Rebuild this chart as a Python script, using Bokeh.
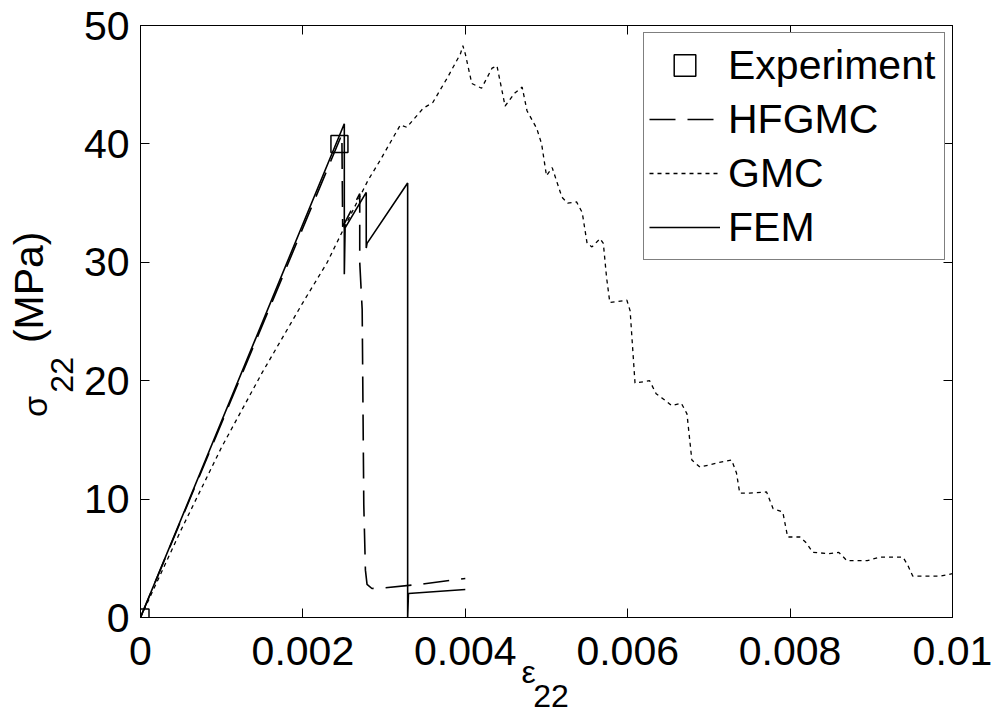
from bokeh.plotting import figure
from bokeh.models import (LinearAxis, FixedTicker, Legend, LegendItem, Range1d)
from bokeh.embed import file_html
from bokeh.resources import INLINE

# ---------------- data ----------------
exp_x = [0.0, 0.00245]
exp_y = [0.0, 40.0]

hfgmc_x = [0.0, 0.00248, 0.00249, 0.00270, 0.00270, 0.00273, 0.00275, 0.00277,
           0.00279, 0.00285, 0.0030, 0.0035, 0.0040]
hfgmc_y = [0.0, 40.8, 33.0, 35.8, 30.0, 26.0, 9.5, 4.0,
           2.8, 2.45, 2.5, 2.85, 3.3]

fem_x = [0.0, 0.00251, 0.00251, 0.00252, 0.00278, 0.00278, 0.00279, 0.00329,
         0.00329, 0.00330, 0.0040]
fem_y = [0.0, 41.7, 29.0, 32.9, 35.9, 31.2, 31.6, 36.7,
         0.0, 2.03, 2.36]

gmc_x = [0.0, 0.0005, 0.001, 0.0015, 0.002, 0.0023, 0.0025, 0.0028, 0.00295,
         0.0032, 0.00328, 0.00348, 0.0036, 0.00378, 0.00394, 0.00397, 0.0040,
         0.00408, 0.0042, 0.00433, 0.00439, 0.00449, 0.00461, 0.0047, 0.00476,
         0.00488, 0.00494, 0.0050, 0.00507, 0.00519, 0.00526, 0.00537, 0.00544,
         0.0055, 0.00556, 0.00566, 0.0057, 0.00574, 0.00578, 0.00599, 0.00603,
         0.00609, 0.00627, 0.00635, 0.00643, 0.00654, 0.00666, 0.00673, 0.00679,
         0.00689, 0.00713, 0.00728, 0.00734, 0.00738, 0.0075, 0.00771, 0.00779,
         0.00791, 0.00797, 0.00812, 0.0082, 0.00828, 0.00848, 0.0086, 0.0087,
         0.00895, 0.0091, 0.00939, 0.00945, 0.00951, 0.00985, 0.0100]
gmc_y = [0.0, 7.4, 14.4, 20.7, 26.6, 30.0, 32.8, 36.9, 38.6,
         41.6, 41.4, 43.0, 43.5, 45.6, 47.6, 48.3, 47.6,
         45.1, 44.7, 46.4, 46.6, 43.2, 44.3, 44.8, 42.8,
         41.3, 40.0, 37.3, 38.0, 35.5, 35.0, 35.1, 34.2,
         31.6, 31.3, 32.0, 31.6, 28.7, 26.6, 26.8, 25.9,
         19.8, 20.0, 18.9, 18.5, 17.9, 18.1, 17.2, 13.3,
         12.7, 13.1, 13.3, 12.2, 10.5, 10.5, 10.6, 9.2,
         8.9, 6.8, 6.8, 6.3, 5.5, 5.4, 5.5, 4.8,
         4.8, 5.1, 5.1, 4.4, 3.5, 3.5, 3.7]

x_ticks = [0.0, 0.002, 0.004, 0.006, 0.008, 0.01]
x_tick_labels = ["0", "0.002", "0.004", "0.006", "0.008", "0.01"]
y_ticks = [0, 10, 20, 30, 40, 50]
y_tick_labels = ["0", "10", "20", "30", "40", "50"]

series_names = ["Experiment", "HFGMC", "GMC", "FEM"]
x_title_main, x_title_sub = "ε", "22"
y_title_main, y_title_sub, y_title_unit = "σ", "22", "(MPa)"

# ---------------- figure ----------------
FONT = "Liberation Sans"
NB = "\u00a0"
p = figure(width=995, height=726, output_backend="svg", toolbar_location=None,
           x_range=Range1d(0, 0.01), y_range=Range1d(0, 50),
           min_border_left=140, min_border_right=43, min_border_top=25,
           min_border_bottom=109, x_axis_location=None, y_axis_location=None)
p.grid.visible = False
p.outline_line_color = "black"
p.outline_line_width = 1
p.background_fill_color = "white"
p.border_fill_color = "white"


def make_axis(kind, ticks, labels, show_labels):
    ax = LinearAxis(ticker=FixedTicker(ticks=ticks))
    ax.major_tick_in = 9
    ax.major_tick_out = 0
    ax.minor_tick_in = 0
    ax.minor_tick_out = 0
    ax.axis_line_color = "black"
    ax.major_tick_line_color = "black"
    ax.major_label_text_font = FONT
    ax.major_label_text_color = "black"
    ax.axis_label_text_font = FONT
    ax.axis_label_text_font_style = "normal"
    ax.axis_label_text_color = "black"
    if show_labels:
        ax.major_label_overrides = {t: l for t, l in zip(ticks, labels)}
        ax.major_label_text_font_size = "41px"
        ax.major_label_standoff = 19 if kind == "x" else 11
    else:
        ax.major_label_overrides = {t: "" for t in ticks}
        ax.major_label_text_font_size = "1px"
        ax.major_label_standoff = 0
    return ax


def title_axis(text, size, standoff):
    """An axis that only carries a title piece (no line, no ticks)."""
    ax = LinearAxis(ticker=FixedTicker(ticks=[]))
    ax.axis_line_color = None
    ax.major_tick_line_color = None
    ax.minor_tick_line_color = None
    ax.major_label_text_font_size = "1px"
    ax.major_label_standoff = 0
    ax.major_tick_in = 0
    ax.major_tick_out = 0
    ax.axis_label = text
    ax.axis_label_text_font = FONT
    ax.axis_label_text_font_style = "normal"
    ax.axis_label_text_color = "black"
    ax.axis_label_text_font_size = size
    ax.axis_label_standoff = standoff
    return ax


# bottom: tick labels + "ε", then the subscript "22"
xa = make_axis("x", x_ticks, x_tick_labels, True)
xa.axis_label = x_title_main + NB * 4
xa.axis_label_text_font_size = "32px"
xa.axis_label_standoff = -14
p.add_layout(xa, "below")
p.add_layout(title_axis(NB + x_title_sub, "32px", -15), "below")

# left: tick labels + subscript "22", then "σ", then "(MPa)"
ya = make_axis("y", y_ticks, y_tick_labels, True)
ya.axis_label = y_title_sub + NB * 12
ya.axis_label_text_font_size = "32px"
ya.axis_label_standoff = 1
p.add_layout(ya, "left")
p.add_layout(title_axis(y_title_main + NB * 18, "34px", -13), "left")
p.add_layout(title_axis(NB * 6 + y_title_unit, "41px", -39), "left")

# mirrored tick marks on top and right
p.add_layout(make_axis("x", x_ticks, x_tick_labels, False), "above")
p.add_layout(make_axis("y", y_ticks, y_tick_labels, False), "right")

r_h = p.line(hfgmc_x, hfgmc_y, line_color="black", line_width=1.6,
             line_dash="26 12")
r_g = p.line(gmc_x, gmc_y, line_color="black", line_width=1.3,
             line_dash="4 4")
r_f = p.line(fem_x, fem_y, line_color="black", line_width=1.6)
r_e = p.scatter(exp_x, exp_y, marker="square", size=17, fill_alpha=0,
                line_color="black", line_width=1.5)

legend = Legend(items=[LegendItem(label=series_names[0], renderers=[r_e]),
                       LegendItem(label=series_names[1], renderers=[r_h]),
                       LegendItem(label=series_names[2], renderers=[r_g]),
                       LegendItem(label=series_names[3], renderers=[r_f])],
                location="top_right")
legend.label_text_font = FONT
legend.label_text_font_size = "41px"
legend.label_text_color = "black"
legend.label_standoff = 8
legend.glyph_width = 71
legend.glyph_height = 54
legend.label_height = 54
legend.label_width = 211
legend.spacing = 0
legend.padding = 5
legend.margin = 7
legend.border_line_color = "black"
legend.border_line_width = 1
legend.background_fill_color = "white"
legend.background_fill_alpha = 1
p.add_layout(legend)

open("out.html", "w").write(file_html(p, INLINE))
